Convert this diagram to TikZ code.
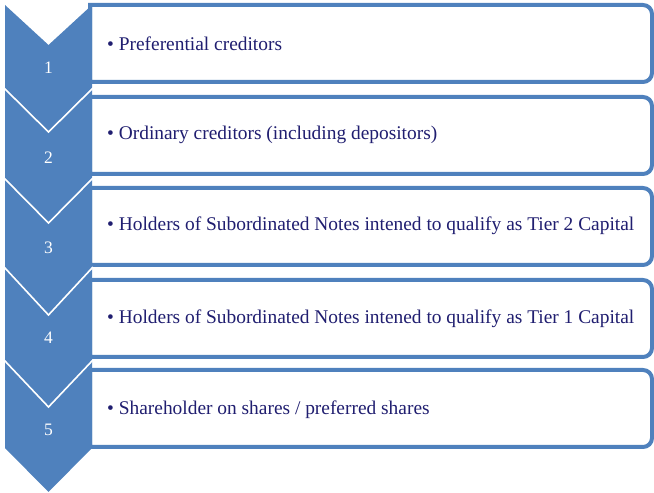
\documentclass[tikz,border=0pt]{standalone}
\usepackage{fontspec}
\setmainfont{Liberation Serif}
\definecolor{chev}{RGB}{79,129,189}
\definecolor{navy}{RGB}{32,30,112}
\begin{document}
\begin{tikzpicture}[x=1pt,y=1pt,
  chevshape/.style={fill=chev,draw=none},
  boxshape/.style={fill=white,draw=chev,line width=4pt},
  numtext/.style={text=white,font=\fontsize{17.5}{20}\selectfont,inner sep=0pt},
  itemtext/.style={text=navy,font=\fontsize{19.4}{23}\selectfont,anchor=west,inner sep=0pt},
  gapline/.style={draw=white,line width=1.6pt}]
\useasboundingbox (0,0) rectangle (654,493);
% boxes: top (px from top), text centre (px from top), text
\foreach \k/\tp/\tc/\txt in {0/5/44/{Preferential creditors},
                     1/97/135/{Ordinary creditors (including depositors)},
                     2/188/226/{Holders of Subordinated Notes intened to qualify as Tier 2 Capital},
                     3/280/319/{Holders of Subordinated Notes intened to qualify as Tier 1 Capital},
                     4/370/410/{Shareholder on shares / preferred shares}}{
  \pgfmathsetmacro{\top}{493-\tp}
  \pgfmathsetmacro{\bot}{\top-77}
  \pgfmathsetmacro{\mid}{493-\tc}
  \draw[boxshape] (90,\top) -- (643,\top) arc[start angle=90,end angle=0,radius=9]
       -- (652,\bot+9) arc[start angle=0,end angle=-90,radius=9] -- (90,\bot) -- cycle;
  \node[itemtext] (t\k) at (107,\mid) {• \txt};
}
% chevrons: top, notch, side bottom, point, number (px from top)
\foreach \k/\a/\b/\c/\d/\e in {0/5/45/88/132/68, 1/88/132/178/223/158,
                               2/178/223/267/315/248, 3/267/315/360/407/338,
                               4/360/407/448/492/430}{
  \path[chevshape] (5,493-\a) -- (48.5,493-\b) -- (92,493-\a) -- (92,493-\c)
       -- (48.5,493-\d) -- (5,493-\c) -- cycle;
  \ifnum\k>0
    \draw[gapline] (4,493-\a) -- (48.5,493-\b) -- (93,493-\a);
  \fi
  \pgfmathtruncatemacro{\n}{\k+1}
  \node[numtext] (n\k) at (48.5,493-\e) {\n};
}
\end{tikzpicture}
\end{document}
